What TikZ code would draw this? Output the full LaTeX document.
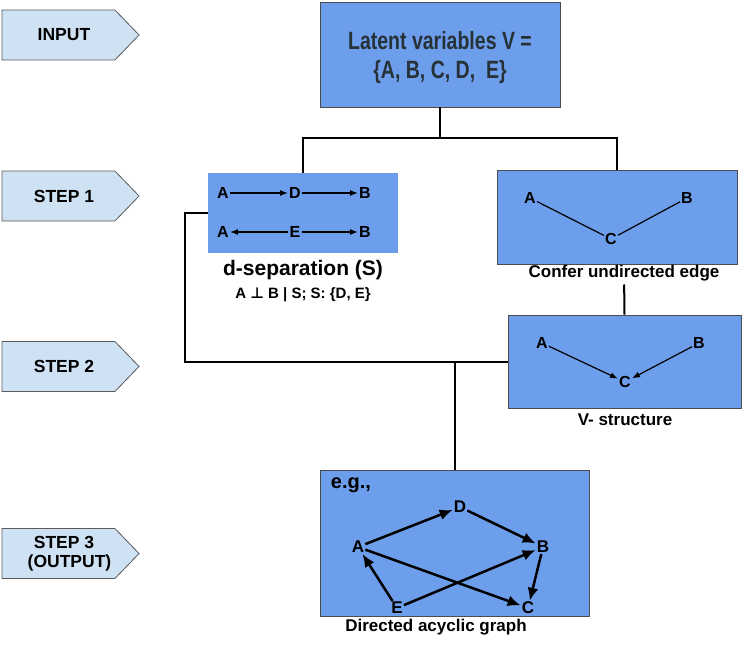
\documentclass[tikz,border=0pt]{standalone}
\usepackage{fontspec}
\setmainfont{Liberation Sans}
\newfontfamily\narrowfont[FakeStretch=0.78]{Liberation Sans}
\newfontfamily\symbfont{DejaVu Sans}
\usetikzlibrary{shapes.symbols,arrows.meta}

\definecolor{boxblue}{HTML}{6D9EEB}
\definecolor{tagblue}{HTML}{CFE2F3}
\definecolor{tagline}{HTML}{595959}
\definecolor{inktext}{HTML}{263238}

\tikzset{
  tag/.style={shape=signal, signal to=east, signal pointer angle=92,
    draw=tagline, fill=tagblue, line width=0.8pt, inner sep=0pt,
    minimum width=137pt, minimum height=50pt, align=center,
    execute at begin node=\hspace*{11pt},
    font=\bfseries\fontsize{17.5}{19}\selectfont},
  panel/.style={draw=black!70, fill=boxblue, line width=0.8pt, inner sep=0pt},
  var/.style={inner sep=1pt, font=\bfseries\fontsize{16}{16}\selectfont},
  bigvar/.style={inner sep=1pt, font=\bfseries\fontsize{17}{17}\selectfont},
  caption/.style={font=\bfseries\fontsize{17}{19}\selectfont},
  link/.style={line width=2pt},
  thinarrow/.style={line width=1.2pt, -{Latex[length=8pt,width=6pt]}},
  dagarrow/.style={line width=2.5pt, -{Latex[length=13pt,width=11pt]}}
}

\begin{document}
\begin{tikzpicture}[x=1pt, y=-1pt]
    \useasboundingbox (0,0) rectangle (742,646);

    % stage tags
    \node[tag] (input) at (58.5,35) {INPUT};
    \node[tag] (step1) at (58.5,196) {STEP 1};
    \node[tag] (step2) at (58.5,366.5) {STEP 2};
    \node[tag] (step3) at (58.5,553.5) {STEP 3\\\hspace*{11pt}(OUTPUT)};

    % input
    \node[panel, minimum width=240pt, minimum height=105pt] (latent) at (440,54.5) {};
    \node[align=center, text=inktext,
          font=\narrowfont\bfseries\fontsize{25}{29}\selectfont]
          (latenttxt) at (440,58) {Latent variables V =\\\{A, B, C, D,\ \ E\}};

    % step 1, d-separation
    \node[fill=boxblue, minimum width=190pt, minimum height=80pt] (dsep) at (303,213) {};
    \node[var] (dA1) at (223,193) {A};
    \node[var] (dD1) at (295,193) {D};
    \node[var] (dB1) at (365,193) {B};
    \node[var] (dA2) at (223,232) {A};
    \node[var] (dE2) at (295,232) {E};
    \node[var] (dB2) at (365,232) {B};
    \draw[thinarrow] (dA1) -- (dD1);
    \draw[thinarrow] (dD1) -- (dB1);
    \draw[thinarrow] (dE2) -- (dA2);
    \draw[thinarrow] (dE2) -- (dB2);
    \node[font=\bfseries\fontsize{21}{23}\selectfont] (sepname) at (303,270) {d-separation (S)};
    \node[font=\bfseries\fontsize{15}{17}\selectfont] (seprule) at (303,295)
          {A {\symbfont\bfseries ⊥} B | S; S: \{D, E\}};

    % step 1, skeleton
    \node[panel, minimum width=240pt, minimum height=94pt] (confer) at (617,217) {};
    \node[var] (cA) at (530,198) {A};
    \node[var] (cB) at (687,198) {B};
    \node[var] (cC) at (611,239) {C};
    \draw[line width=1.2pt] (cA) -- (cC);
    \draw[line width=1.2pt] (cB) -- (cC);
    \node[caption] (conferlbl) at (624,273) {Confer undirected edge};

    % step 2, v-structure
    \node[panel, minimum width=233pt, minimum height=93pt] (vstruct) at (624.5,361.5) {};
    \node[var] (vA) at (542,343) {A};
    \node[var] (vB) at (699,343) {B};
    \node[var] (vC) at (625,382) {C};
    \draw[thinarrow] (vA) -- (vC);
    \draw[thinarrow] (vB) -- (vC);
    \node[caption] (vlbl) at (625,420) {V- structure};

    % step 3, DAG
    \node[panel, minimum width=269pt, minimum height=146pt] (dag) at (454.5,543) {};
    \node[font=\bfseries\fontsize{20}{22}\selectfont] (eg) at (351,485) {e.g.,};
    \node[bigvar] (gA) at (358,547) {A};
    \node[bigvar] (gD) at (460,507) {D};
    \node[bigvar] (gB) at (543,547) {B};
    \node[bigvar] (gE) at (397,608) {E};
    \node[bigvar] (gC) at (528,608) {C};
    \draw[dagarrow] (gA) -- (gD);
    \draw[dagarrow] (gD) -- (gB);
    \draw[dagarrow] (gA) -- (gC);
    \draw[dagarrow] (gE) -- (gA);
    \draw[dagarrow] (gE) -- (gB);
    \draw[dagarrow] (gB) -- (gC);
    \node[caption] (daglbl) at (436,627) {Directed acyclic graph};

    % connectors
    \coordinate (split) at (440,138);
    \coordinate (merge) at (454.5,361.5);
    \draw[link] (latent.south) -- (split);
    \draw[link] (dsep.north) |- (split) -| (confer.north);
    \draw[link] (conferlbl) -- (vstruct.north);
    \draw[link] (dsep.west) -- ++(-23,0) |- (vstruct.west);
    \draw[link] (merge) -- (dag.north);
\end{tikzpicture}
\end{document}
